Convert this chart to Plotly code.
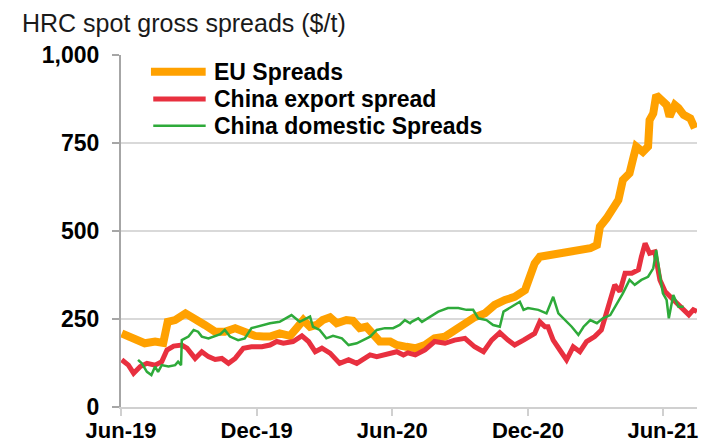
import plotly.graph_objects as go

# ---- data ----
eu_dates = ["2019-06-02","2019-06-20","2019-07-03","2019-07-17","2019-07-28","2019-08-03","2019-08-13","2019-08-27",
            "2019-09-09","2019-09-22","2019-10-06","2019-10-19","2019-11-02","2019-11-15","2019-11-29","2019-12-10",
            "2019-12-19","2020-01-01","2020-01-15","2020-01-24","2020-02-02","2020-02-11","2020-02-20","2020-02-28",
            "2020-03-09","2020-03-18","2020-03-31","2020-04-09","2020-04-18","2020-04-27","2020-05-06","2020-05-15",
            "2020-05-29","2020-06-07","2020-06-20","2020-07-02","2020-07-15","2020-07-28","2020-08-11","2020-08-24",
            "2020-09-07","2020-09-20","2020-10-04","2020-10-17","2020-10-31","2020-11-13","2020-11-27","2020-12-04",
            "2020-12-10","2020-12-17","2020-12-31","2021-01-13","2021-01-27","2021-02-09","2021-02-23","2021-03-04",
            "2021-03-08","2021-03-17","2021-03-24","2021-04-02","2021-04-08","2021-04-17","2021-04-22","2021-04-26",
            "2021-05-05","2021-05-12","2021-05-14","2021-05-19","2021-05-23","2021-05-30","2021-06-06","2021-06-10",
            "2021-06-17","2021-06-22","2021-06-29","2021-07-08","2021-07-14"]
eu_values = [209,190,181,186,182,242,247,266,
             252,233,214,214,224,214,202,200,
             200,209,202,224,247,228,233,247,
             255,238,247,245,224,228,209,186,
             186,176,171,167,176,195,200,219,
             238,255,266,290,304,313,332,370,
             408,427,432,437,441,451,451,460,
             512,536,564,588,645,664,707,740,
             725,740,815,834,886,872,858,825,
             858,849,830,820,792]

cn_export_dates = ["2019-06-02","2019-06-11","2019-06-18","2019-06-27","2019-07-06","2019-07-17","2019-07-26","2019-08-02",
                   "2019-08-11","2019-08-22","2019-08-29","2019-09-09","2019-09-18","2019-09-27","2019-10-06","2019-10-15",
                   "2019-10-24","2019-11-02","2019-11-13","2019-11-24","2019-12-08","2019-12-19","2019-12-28","2020-01-06",
                   "2020-01-19","2020-01-31","2020-02-09","2020-02-18","2020-02-27","2020-03-09","2020-03-22","2020-04-03",
                   "2020-04-14","2020-04-23","2020-05-02","2020-05-11","2020-05-24","2020-06-07","2020-06-16","2020-06-22",
                   "2020-07-02","2020-07-15","2020-07-28","2020-08-11","2020-08-24","2020-09-07","2020-09-20","2020-10-02",
                   "2020-10-13","2020-10-24","2020-11-04","2020-11-13","2020-11-25","2020-12-04","2020-12-10","2020-12-17",
                   "2020-12-24","2020-12-28","2021-01-04","2021-01-13","2021-01-22","2021-01-31","2021-02-09","2021-02-18",
                   "2021-03-01","2021-03-10","2021-03-19","2021-03-28","2021-04-04","2021-04-11","2021-04-20","2021-04-29",
                   "2021-05-03","2021-05-08","2021-05-14","2021-05-21","2021-05-28","2021-06-04","2021-06-13","2021-06-22",
                   "2021-07-01","2021-07-06","2021-07-12","2021-07-17"]
cn_export_values = [134,119,96,115,124,119,129,162,
                    173,176,167,138,157,143,135,138,
                    124,138,167,171,171,176,186,181,
                    186,202,186,157,167,153,124,134,
                    124,138,148,143,148,157,148,154,
                    148,162,186,181,190,195,171,157,
                    190,211,190,176,190,200,209,242,
                    228,228,190,162,134,171,157,186,
                    200,219,285,347,328,380,380,390,
                    427,465,437,441,361,328,309,290,
                    276,262,276,271]

cn_dom_dates = ["2019-06-24","2019-06-29","2019-07-06","2019-07-12","2019-07-17","2019-07-21","2019-07-26","2019-08-04",
                "2019-08-13","2019-08-17","2019-08-21","2019-08-22","2019-08-31","2019-09-07","2019-09-13","2019-09-18",
                "2019-09-27","2019-10-06","2019-10-13","2019-10-19","2019-10-26","2019-11-06","2019-11-15","2019-11-24",
                "2019-12-01","2019-12-10","2019-12-19","2020-01-01","2020-01-17","2020-01-28","2020-02-11","2020-02-15",
                "2020-02-24","2020-03-04","2020-03-13","2020-03-25","2020-04-03","2020-04-14","2020-04-23","2020-05-02",
                "2020-05-11","2020-05-22","2020-06-02","2020-06-11","2020-06-18","2020-06-25","2020-06-27","2020-07-06",
                "2020-07-11","2020-07-19","2020-08-02","2020-08-15","2020-08-29","2020-09-09","2020-09-18","2020-09-25",
                "2020-10-06","2020-10-15","2020-10-24","2020-10-29","2020-11-09","2020-11-20","2020-11-25","2020-12-01",
                "2020-12-15","2020-12-26","2020-12-28","2021-01-04","2021-01-11","2021-01-20","2021-01-29","2021-02-07",
                "2021-02-14","2021-02-23","2021-03-04","2021-03-12","2021-03-22","2021-03-30","2021-04-08","2021-04-17",
                "2021-04-24","2021-05-03","2021-05-12","2021-05-19","2021-05-23","2021-05-28","2021-06-01","2021-06-06",
                "2021-06-09","2021-06-15","2021-06-22","2021-06-29"]
cn_dom_values = [134,124,100,91,115,100,119,115,
                 119,129,119,190,200,219,214,200,
                 195,202,207,219,200,190,195,224,
                 228,233,238,242,261,242,257,228,
                 219,195,202,195,176,181,190,200,
                 219,224,224,233,247,238,242,252,
                 242,252,271,281,281,276,276,252,
                 247,233,228,271,285,299,276,281,
                 276,266,276,313,266,247,228,205,
                 228,247,238,252,261,290,323,361,
                 347,361,370,394,446,375,323,304,
                 252,318,285,285]

series_names = ["EU Spreads", "China export spread", "China domestic Spreads"]
series_colors = ["#FFA100", "#E8303F", "#2EAA3A"]
series_widths = [8, 5, 2.5]

tick_dates = ["2019-06-01", "2019-12-01", "2020-06-01", "2020-12-01", "2021-06-01"]
tick_labels = ["Jun-19", "Dec-19", "Jun-20", "Dec-20", "Jun-21"]
y_ticks = [0, 250, 500, 750, 1000]

FONT = "Liberation Sans"

fig = go.Figure()
for d, v, name, col, w in zip([eu_dates, cn_export_dates, cn_dom_dates],
                              [eu_values, cn_export_values, cn_dom_values],
                              series_names, series_colors, series_widths):
    fig.add_trace(go.Scatter(x=d, y=v, mode="lines", name=name,
                             line=dict(color=col, width=w), showlegend=False))

# manual legend (styling only)
leg_y = [0.9526, 0.875, 0.799]
leg_x0 = [0.052, 0.056, 0.056]
for name, col, w, yy, x0 in zip(series_names, series_colors, series_widths, leg_y, leg_x0):
    fig.add_shape(type="line", xref="paper", yref="paper", x0=x0, x1=0.147, y0=yy, y1=yy,
                  line=dict(color=col, width=w))
    fig.add_annotation(xref="paper", yref="paper", x=0.1575, y=yy, text=name, showarrow=False,
                       xanchor="left", yanchor="middle",
                       font=dict(family=FONT, size=23, color="#000000", weight="bold"))

# page body has an 8px margin, so the figure is sized/offset to fit the 725x446 window
fig.update_layout(
    width=717, height=438,
    margin=dict(l=113, r=28, t=47, b=39, autoexpand=False),
    paper_bgcolor="white", plot_bgcolor="white",
    title=dict(text="HRC spot gross spreads ($/t)", x=14/717, xref="container", xanchor="left",
               y=1 - 15/438, yref="container", yanchor="middle", automargin=False,
               font=dict(family=FONT, size=25, color="#1a1a1a")),
    xaxis=dict(type="date", range=["2019-06-01", "2021-07-17"], automargin=False,
               tickvals=tick_dates, ticktext=tick_labels,
               showgrid=False, zeroline=False,
               showline=True, linecolor="#D0D0D0", linewidth=2,
               ticks="outside", ticklen=7, tickcolor="#D0D0D0", tickwidth=2,
               ticklabelstandoff=-4,
               tickfont=dict(family=FONT, size=22, color="#000000", weight="bold")),
    yaxis=dict(range=[0, 1000], tickvals=y_ticks, tickformat=",", automargin=False,
               showgrid=True, gridcolor="#D9D9D9", gridwidth=2, zeroline=False,
               showline=True, linecolor="#A6A6A6", linewidth=2,
               ticks="outside", ticklen=7, tickcolor="#A6A6A6", tickwidth=2,
               ticklabelstandoff=8,
               tickfont=dict(family=FONT, size=23, color="#000000", weight="bold")),
)

fig.write_html("out.html")
